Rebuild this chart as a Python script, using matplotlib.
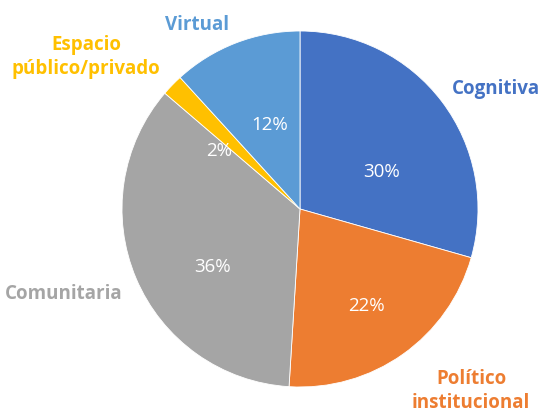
import matplotlib.pyplot as plt

# slice data, drawn clockwise from the top
categories = ['Cognitiva', 'Político\ninstitucional', 'Comunitaria',
              'Espacio\npúblico/privado', 'Virtual']
values = [30, 22, 36, 2, 12]
colors = ['#4472C4', '#ED7D31', '#A5A5A5', '#FFC000', '#5B9BD5']

# label anchor points in pixels (centre of text), from the reference
name_pos = [(496, 89), (471, 391), (64, 294), (86, 57), (197, 25)]
pct_pos = [(382, 172), (366, 306), (212, 267), (219, 151), (270, 125)]

W, H = 540, 414
CX, CY, R = 300, 210, 178


def to_data(px, py):
    return (px - CX) / R, (CY - py) / R


plt.rcParams['font.family'] = ['Open Sans', 'DejaVu Sans']

fig = plt.figure(figsize=(W / 100, H / 100), dpi=100)
ax = fig.add_axes([0, 0, 1, 1])
ax.pie(values, colors=colors, startangle=90, counterclock=False,
       radius=1, wedgeprops=dict(edgecolor='white', linewidth=0.6))
ax.set_xlim(-CX / R, (W - CX) / R)
ax.set_ylim(-(H - CY) / R, CY / R)
ax.set_aspect('equal')
ax.axis('off')

for name, col, (px, py) in zip(categories, colors, name_pos):
    x, y = to_data(px, py)
    ax.text(x, y, name, color=col, fontsize=13.5, fontweight='bold',
            ha='center', va='center', linespacing=1.25)

for v, (px, py) in zip(values, pct_pos):
    x, y = to_data(px, py)
    ax.text(x, y, f'{v}%', color='white', fontsize=13.5,
            ha='center', va='center')

fig.savefig('out.png', dpi=100)
